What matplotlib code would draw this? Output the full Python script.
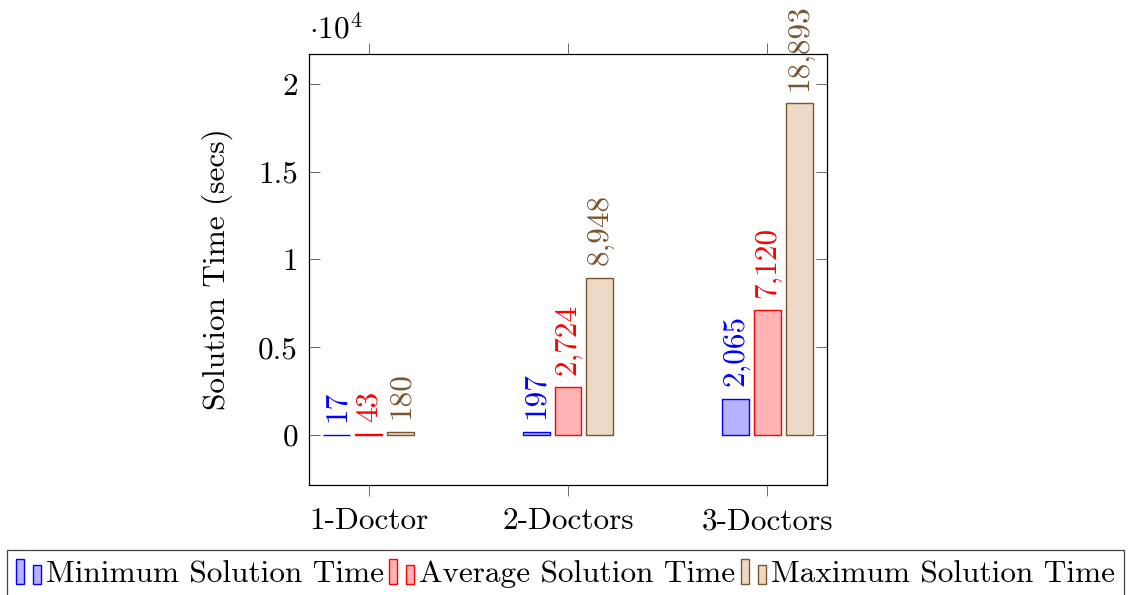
import matplotlib
matplotlib.use("Agg")
import matplotlib.pyplot as plt
import numpy as np
from matplotlib.patches import Patch, Rectangle
from matplotlib.legend_handler import HandlerBase
from matplotlib.ticker import FixedLocator

plt.rcParams['font.family'] = 'serif'
plt.rcParams['font.serif'] = ['cmr10']
plt.rcParams['mathtext.fontset'] = 'cm'
plt.rcParams['axes.formatter.use_mathtext'] = True

categories = ['1-Doctor', '2-Doctors', '3-Doctors']
series_names = ['Minimum Solution Time', 'Average Solution Time', 'Maximum Solution Time']
min_time = [17, 197, 2065]
avg_time = [43, 2724, 7120]
max_time = [180, 8948, 18893]
y_ticks = [0, 5000, 10000, 15000, 20000]
y_tick_labels = ['0', '0.5', '1', '1.5', '2']

series = [min_time, avg_time, max_time]
face_colors = ['#b3b3ff', '#ffb3b3', '#ecd9c6']
edge_colors = ['#0000ff', '#ff0000', '#7a5530']

FS = 22.5
fig = plt.figure(figsize=(11.31, 5.95), dpi=100)
ax = fig.add_axes([309/1131, 1-485/595, (827-309)/1131, (485-54)/595])

x = np.arange(len(categories))
offsets = [-0.16, 0.0, 0.16]
bw = 0.135
for vals, off, fc, ec in zip(series, offsets, face_colors, edge_colors):
    ax.bar(x + off, vals, width=bw, color=fc, edgecolor=ec, linewidth=1.0, zorder=2)
    for xi, v in zip(x, vals):
        ax.annotate(f"{v:,}", (xi + off, v), xytext=(0, 9), textcoords='offset points',
                    rotation=90, ha='center', va='bottom', color=ec, fontsize=FS)

ax.set_xlim(-0.3, 2.3)
ax.set_ylim(-2850, 21710)
ax.set_xticks(x)
ax.set_xticklabels(categories, fontsize=FS)
ax.yaxis.set_major_locator(FixedLocator(y_ticks))
ax.set_yticklabels(y_tick_labels, fontsize=FS)
ax.tick_params(axis='x', direction='out', top=True, bottom=True, length=8, width=0.6, color='#555555', pad=8)
ax.tick_params(axis='y', direction='in', left=True, right=True, length=8, width=0.6, color='#555555', pad=8)
for s in ax.spines.values():
    s.set_linewidth(0.9)
ax.set_ylabel('Solution Time (secs)', fontsize=FS, labelpad=18)
ax.text(0.0, 1.02, r'$\cdot 10^4$', transform=ax.transAxes, ha='left', va='bottom', fontsize=FS)


class TwoBarHandler(HandlerBase):
    def create_artists(self, legend, orig_handle, xdescent, ydescent, width, height, fontsize, trans):
        fc = orig_handle.get_facecolor()
        ec = orig_handle.get_edgecolor()
        w = width * 0.32
        r1 = Rectangle((-xdescent, -ydescent), w, height, facecolor=fc, edgecolor=ec, lw=1.0, transform=trans)
        r2 = Rectangle((-xdescent + width - w, -ydescent), w, height * 0.77, facecolor=fc, edgecolor=ec, lw=1.0, transform=trans)
        return [r1, r2]


handles = [Patch(facecolor=fc, edgecolor=ec) for fc, ec in zip(face_colors, edge_colors)]
leg = fig.legend(handles, series_names, loc='upper center', bbox_to_anchor=(0.5, 1-550/595),
                 ncol=3, fontsize=FS, handler_map={Patch: TwoBarHandler()},
                 handlelength=0.8, handleheight=0.83, handletextpad=0.16, columnspacing=0.16,
                 borderpad=0.3, fancybox=False, framealpha=1, edgecolor='#444444', borderaxespad=0)
leg.get_frame().set_linewidth(0.9)

fig.savefig('out.png', dpi=100)
